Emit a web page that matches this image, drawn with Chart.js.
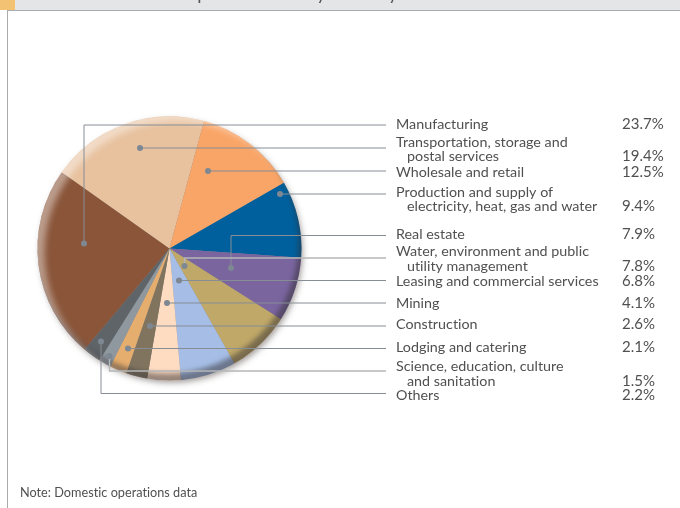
<!DOCTYPE html>
<html>
<head>
<meta charset="utf-8">
<title>Corporate loans by industry</title>
<script src="https://cdn.jsdelivr.net/npm/chart.js@4"></script>
<style>
    html, body { margin: 0; padding: 0; background: #fff; overflow: hidden; }
    canvas { display: block; }
</style>
</head>
<body>
<canvas id="industryChart" width="680" height="508"></canvas>
<script>
const titleText = "Breakdown of Corporate Loans by Industry";
const noteText = "Note: Domestic operations data";

const categories = [
    "Manufacturing",
    "Transportation, storage and postal services",
    "Wholesale and retail",
    "Production and supply of electricity, heat, gas and water",
    "Real estate",
    "Water, environment and public utility management",
    "Leasing and commercial services",
    "Mining",
    "Construction",
    "Lodging and catering",
    "Science, education, culture and sanitation",
    "Others"
];
const shares = [23.7, 19.4, 12.5, 9.4, 7.9, 7.8, 6.8, 4.1, 2.6, 2.1, 1.5, 2.2];
const sliceColors = [
    "#8a5539", "#e8c29f", "#f9a567", "#00609d", "#7a659f", "#bfa868",
    "#a6bee6", "#fddcc2", "#80745f", "#e6ae6e", "#8f979f", "#5f6469"
];

// text column: each printed line with its baseline, wrapped lines are indented
const labelLines = [
    { text: "Manufacturing", y: 129 },
    { text: "Transportation, storage and", y: 147 },
    { text: "postal services", y: 161, indent: true },
    { text: "Wholesale and retail", y: 177 },
    { text: "Production and supply of", y: 197 },
    { text: "electricity, heat, gas and water", y: 211, indent: true },
    { text: "Real estate", y: 239 },
    { text: "Water, environment and public", y: 256 },
    { text: "utility management", y: 271, indent: true },
    { text: "Leasing and commercial services", y: 286 },
    { text: "Mining", y: 308 },
    { text: "Construction", y: 329 },
    { text: "Lodging and catering", y: 352 },
    { text: "Science, education, culture", y: 371 },
    { text: "and sanitation", y: 386, indent: true },
    { text: "Others", y: 400 }
];
const valueBases = [129, 161, 177, 211, 239, 271, 286, 308, 329, 352, 386, 400];

// callout lines: dot, then optional elbow at y, then across to the text column
const leaders = [
    { x: 84, y: 243.5, elbow: 125 },
    { x: 140, y: 148 },
    { x: 208, y: 171 },
    { x: 280, y: 194 },
    { x: 231, y: 268, elbow: 235.5 },
    { x: 184.5, y: 266, elbow: 258, light: true },
    { x: 179, y: 280.5 },
    { x: 167, y: 303 },
    { x: 150, y: 326 },
    { x: 128, y: 348.5 },
    { x: 109.5, y: 356, elbow: 371, light: true },
    { x: 101, y: 341.5, elbow: 393.5 }
];

const FONT = 'Lato, "Open Sans", sans-serif';
const TEXT_X = 396, INDENT_X = 407, VALUE_X = 622, LINE_END = 386;

function pieGeometry(chart) {
    const arc = chart.getDatasetMeta(0).data[0];
    return { x: arc.x, y: arc.y, r: arc.outerRadius };
}

// frame and header band behind everything else
const framePlugin = {
    id: "frame",
    beforeDraw(chart) {
        const ctx = chart.ctx;
        ctx.save();
        ctx.fillStyle = "#e4e5e7";
        ctx.fillRect(15, 0, 665, 10);
        ctx.fillStyle = "#f3c272";
        ctx.fillRect(0, 0, 15, 10);
        ctx.fillStyle = "#a9abad";
        ctx.fillRect(7, 10, 673, 1);
        ctx.fillRect(7, 10, 1, 498);
        ctx.fillStyle = "#555";
        ctx.font = "18.5px " + FONT;
        ctx.fillText(titleText, 50, 0);
        ctx.restore();
    }
};

// soft drop shadow under the disc
const shadowPlugin = {
    id: "discShadow",
    beforeDatasetsDraw(chart) {
        const p = pieGeometry(chart), ctx = chart.ctx;
        ctx.save();
        ctx.shadowColor = "rgba(60,50,45,0.5)";
        ctx.shadowBlur = 6;
        ctx.shadowOffsetX = 2;
        ctx.shadowOffsetY = 3;
        ctx.fillStyle = "#888";
        ctx.beginPath();
        ctx.arc(p.x, p.y, p.r - 1, 0, Math.PI * 2);
        ctx.fill();
        ctx.restore();
    }
};

// button style rim: dark on the lower right, pale on the upper left
function innerRim(ctx, p, dx, dy, color, blur) {
    ctx.save();
    ctx.beginPath();
    ctx.arc(p.x, p.y, p.r, 0, Math.PI * 2);
    ctx.clip();
    ctx.filter = "blur(" + blur + "px)";
    ctx.fillStyle = color;
    ctx.beginPath();
    ctx.rect(p.x - p.r - 30, p.y - p.r - 30, p.r * 2 + 60, p.r * 2 + 60);
    ctx.arc(p.x + dx, p.y + dy, p.r, 0, Math.PI * 2, true);
    ctx.fill();
    ctx.restore();
}

const rimPlugin = {
    id: "discRim",
    afterDatasetsDraw(chart) {
        const p = pieGeometry(chart), ctx = chart.ctx;
        innerRim(ctx, p, -3, -7, "rgba(50,45,50,0.5)", 2.5);
        innerRim(ctx, p, 7, 5, "rgba(255,255,255,0.42)", 3);
    }
};

const calloutPlugin = {
    id: "callouts",
    afterDraw(chart) {
        const ctx = chart.ctx;
        ctx.save();
        leaders.forEach(l => {
            ctx.strokeStyle = l.light ? "#b4b6b8" : "#868d95";
            ctx.lineWidth = l.light ? 1.4 : 1;
            const lineY = l.elbow !== undefined ? l.elbow : l.y;
            ctx.beginPath();
            ctx.moveTo(l.x, l.y);
            if (l.elbow !== undefined) ctx.lineTo(l.x, lineY);
            ctx.lineTo(LINE_END, lineY);
            ctx.stroke();
            ctx.fillStyle = "#7e8892";
            ctx.beginPath();
            ctx.arc(l.x, l.y, 3, 0, Math.PI * 2);
            ctx.fill();
        });

        ctx.fillStyle = "#505050";
        ctx.textBaseline = "alphabetic";
        ctx.letterSpacing = "0.01px"; // keeps Lato from joining "ti" into a ligature
        ctx.font = "14.3px " + FONT;
        labelLines.forEach(l => {
            ctx.fillText(l.text, l.indent ? INDENT_X : TEXT_X, l.y);
        });
        ctx.font = "15px " + FONT;
        shares.forEach((v, i) => {
            ctx.fillText(v.toFixed(1) + "%", VALUE_X, valueBases[i]);
        });
        ctx.font = "12.7px " + FONT;
        ctx.fillText(noteText, 20, 497);
        ctx.restore();
    }
};

new Chart(document.getElementById("industryChart"), {
    type: "pie",
    data: {
        labels: categories,
        datasets: [{
            data: shares,
            backgroundColor: sliceColors,
            borderWidth: 0
        }]
    },
    options: {
        responsive: false,
        animation: false,
        rotation: 220,
        radius: 132,
        layout: { padding: { right: 341, bottom: 11 } },
        plugins: {
            legend: { display: false },
            tooltip: { enabled: false }
        }
    },
    plugins: [framePlugin, shadowPlugin, rimPlugin, calloutPlugin]
});
</script>
</body>
</html>
